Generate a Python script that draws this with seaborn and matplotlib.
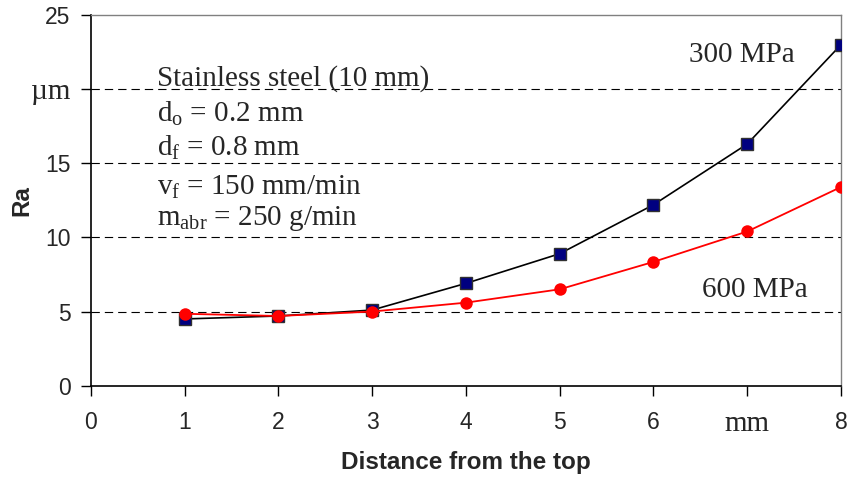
import matplotlib
matplotlib.use("Agg")
import matplotlib.pyplot as plt
import seaborn as sns
import pandas as pd

distance = [1, 2, 3, 4, 5, 6, 7, 8]
ra_300 = [4.5, 4.7, 5.1, 6.9, 8.9, 12.2, 16.3, 23.0]
ra_600 = [4.85, 4.7, 5.0, 5.6, 6.5, 8.35, 10.4, 13.4]
x_ticklabels = ["0", "1", "2", "3", "4", "5", "6", "mm", "8"]
y_ticklabels = ["0", "5", "10", "15", "µm", "25"]
info_lines = ["Stainless steel (10 mm)",
              r"d$_\mathrm{o}$ = 0.2 mm",
              r"d$_\mathrm{f}$ = 0.8 mm",
              r"v$_\mathrm{f}$ = 150 mm/min",
              r"m$_\mathrm{abr}$ = 250 g/min"]

sns.set_style("white")
plt.rcParams['font.family'] = ['Liberation Sans', 'DejaVu Sans']
plt.rcParams['mathtext.fontset'] = 'custom'
plt.rcParams['mathtext.rm'] = 'Liberation Serif'
plt.rcParams['mathtext.it'] = 'Liberation Serif:italic'

df = pd.DataFrame({"d": distance, "r300": ra_300, "r600": ra_600})

fig = plt.figure(figsize=(8.51, 4.79), dpi=100)
ax = fig.add_axes([0.1066, 0.1948, 0.8817, 0.7739])

for yv in [5, 10, 15, 20]:
    ax.axhline(yv, color="black", lw=0.8, ls=(0, (7.5, 4.5)), zorder=1)

sns.lineplot(data=df, x="d", y="r300", ax=ax, color="black", lw=1.2,
             marker="s", markersize=8, markerfacecolor="#000080",
             markeredgecolor="#303030", markeredgewidth=1.0, zorder=3)
sns.lineplot(data=df, x="d", y="r600", ax=ax, color="#ff0000", lw=1.3,
             marker="o", markersize=9, markerfacecolor="#ff0000",
             markeredgecolor="#ff0000", markeredgewidth=0, zorder=4)

ax.set_xlim(0, 8)
ax.set_ylim(0, 25)
ax.set_xticks(range(0, 9))
ax.set_yticks(range(0, 26, 5))
xt = ax.set_xticklabels(x_ticklabels, fontsize=16.5)
yt = ax.set_yticklabels(y_ticklabels, fontsize=16.5)
for t in xt + yt:
    if t.get_text() in ("mm", "µm"):
        t.set_family("Liberation Serif")
        t.set_fontsize(21)
ax.tick_params(axis="both", direction="out", length=7, width=1, color="black",
               bottom=True, left=True)
ax.tick_params(axis="x", pad=11)
ax.tick_params(axis="y", pad=7.5)

for s in ["left", "bottom"]:
    ax.spines[s].set_color("black")
    ax.spines[s].set_linewidth(1.2)
for s in ["top", "right"]:
    ax.spines[s].set_color("#808080")
    ax.spines[s].set_linewidth(1.0)

ax.set_xlabel("Distance from the top", fontsize=17.5, fontweight="bold",
              va="center")
ax.set_ylabel("Ra", fontsize=17.5, fontweight="bold", va="center")
ax.xaxis.set_label_coords(0.5, -0.2085)
ax.yaxis.set_label_coords(-0.0916, 0.5)

ys = [20.2, 17.77, 15.53, 12.9, 10.85]
for txt, yv in zip(info_lines, ys):
    ax.text(0.707, yv, txt, family="Liberation Serif", fontsize=21,
            ha="left", va="baseline")

ax.text(6.94, 21.82, "300 MPa", family="Liberation Serif", fontsize=21,
        ha="center", va="baseline")
ax.text(7.08, 6.0, "600 MPa", family="Liberation Serif", fontsize=21,
        ha="center", va="baseline")

fig.savefig("out.png", dpi=100)
